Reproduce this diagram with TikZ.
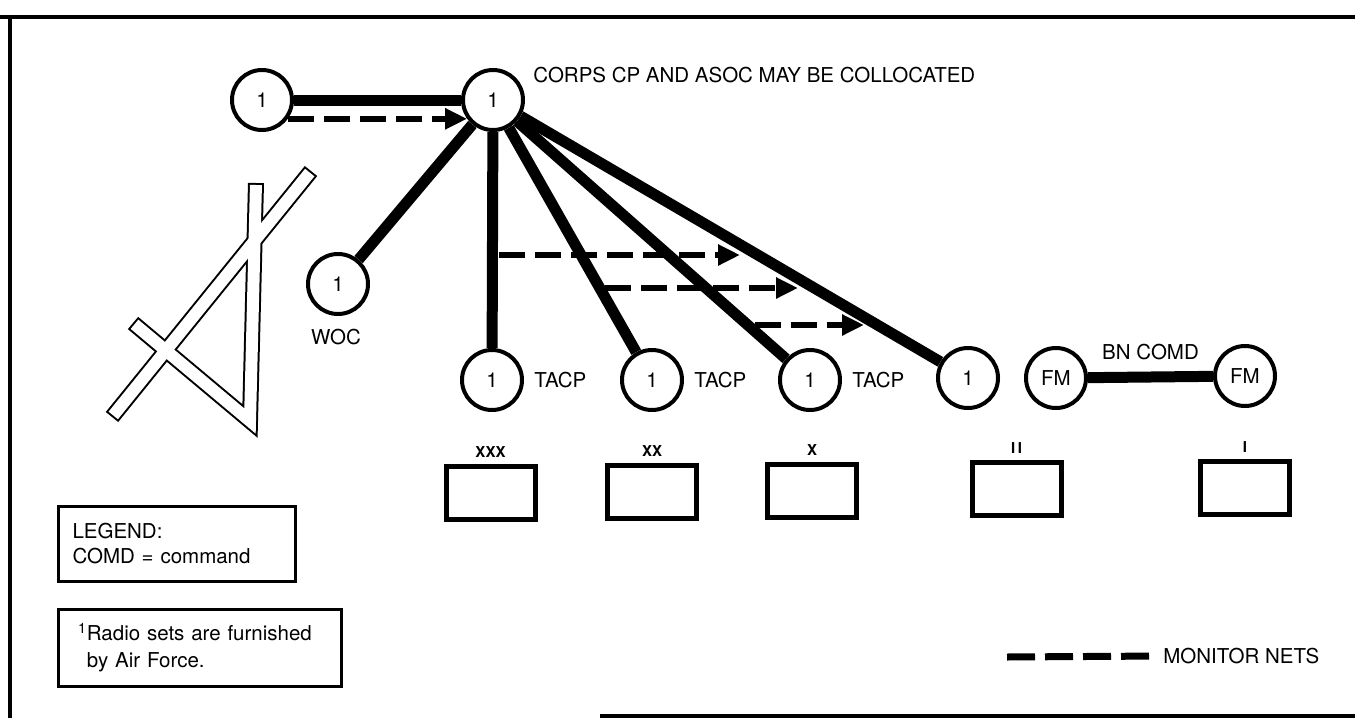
\documentclass[tikz,border=0pt]{standalone}
\usepackage{fontspec}
\setmainfont{TeX Gyre Heros}
\usetikzlibrary{arrows.meta, positioning}

\begin{document}
\begin{tikzpicture}[
  x=0.5pt, y=-0.5pt,
  every node/.style={font=\fontsize{10.25}{12.5}\selectfont, inner sep=0pt},
  radio/.style={circle, draw, line width=2pt, minimum size=30pt, fill=white},
  net/.style={line width=5.5pt},
  mon/.style={line width=3pt, dash pattern=on 13pt off 5pt,
    -{Triangle[length=11pt, width=10pt]}},
  unit/.style={draw, line width=2.5pt, minimum width=44.5pt, minimum height=26.5pt},
  echelon/.style={font=\fontsize{7.5}{9}\selectfont\bfseries},
  legend/.style={draw, line width=1.5pt, align=left},
  frame/.style={line width=2pt},
  wing/.style={line width=8pt, line join=miter},
  wingin/.style={line width=6pt, white, line join=miter, shorten <=1pt, shorten >=1pt}
]
  \useasboundingbox (0,0) rectangle (1355,718);

  % page frame
  \draw[frame] (0,17) -- (1355,17);
  \draw[frame] (10,15) -- (10,718);
  \draw[frame] (600,716) -- (1355,716);

  % Air Force symbol (outlined bars)
  \draw[wing] (133,323) -- (250,421) -- (256,183);
  \draw[wing] (112,417) -- (311,171);
  \draw[wingin] (133,323) -- (250,421) -- (256,183);
  \draw[wingin] (112,417) -- (311,171);

  % radio stations
  \node[radio] (af)    at (262,100) {1};
  \node[radio] (corps) at (493,100) {1};
  \node[radio] (woc)   at (338,284) {1};
  \node[radio] (t1)    at (492,380) {1};
  \node[radio] (t2)    at (652,380) {1};
  \node[radio] (t3)    at (810,380) {1};
  \node[radio] (t4)    at (968,378) {1};
  \node[radio] (fm1)   at (1056,378) {FM};
  \node[radio] (fm2)   at (1245,376) {FM};

  \node[anchor=west] (corpslbl) at (533,75) {CORPS CP AND ASOC MAY BE COLLOCATED};
  \node (woclbl) at (336,337) {WOC};
  \node[right=5pt of t1] (t1lbl) {TACP};
  \node[right=5pt of t2] (t2lbl) {TACP};
  \node[right=5pt of t3] (t3lbl) {TACP};

  % command nets
  \draw[net] (af) -- (corps);    \draw[net] (corps) -- (woc);
  \draw[net] (corps) -- (t1);    \draw[net] (corps) -- (t2);
  \draw[net] (corps) -- (t3);    \draw[net] (corps) -- (t4);
  \draw[net] (fm1) -- node[above=6pt] (bncomd) {BN COMD} (fm2);

  % monitor nets
  \draw[mon] (af.-36) -- (corps.216);
  \coordinate (m1s) at (499,255);  \coordinate (m1e) at (740,255);
  \coordinate (m2s) at (605,288);  \coordinate (m2e) at (798,288);
  \coordinate (m3s) at (755,325);  \coordinate (m3e) at (864,325);
  \draw[mon] (m1s) -- (m1e);
  \draw[mon] (m2s) -- (m2e);
  \draw[mon] (m3s) -- (m3e);

  % echelons
  \node[unit] (bx3) at (490.5,492.5) {};
  \node[unit] (bx2) at (652,492)     {};
  \node[unit] (bx1) at (812,491)     {};
  \node[unit] (bxb) at (1016.5,489)  {};
  \node[unit] (bxc) at (1245,487.5)  {};
  \node[echelon, above=3pt of bx3] (e3) {XXX};
  \node[echelon, above=3pt of bx2] (e2) {XX};
  \node[echelon, above=3pt of bx1] (e1) {X};
  \node[echelon, above=3pt of bxb] (eb) {I\,I};
  \node[echelon, above=3pt of bxc] (ec) {I};

  % legend
  \node[legend, text width=104.5pt, minimum height=37.5pt, inner xsep=7pt]
    (leg) at (177,544) {LEGEND:\\COMD = command};
  \node[legend, text width=122pt, minimum height=38.5pt, inner xsep=9.75pt,
        font=\fontsize{10.25}{13.5}\selectfont]
    (note) at (200,648) {\textsuperscript{1}Radio sets are furnished\\
                         \phantom{\textsuperscript{1}}by Air Force.};

  \node[anchor=west] (montxt) at (1163,656) {MONITOR NETS};
  \coordinate (monA) at (1007,657);
  \draw[line width=3.5pt, dash pattern=on 14pt off 5pt, shorten >=6pt]
    (monA) -- (montxt.west);
\end{tikzpicture}
\end{document}
